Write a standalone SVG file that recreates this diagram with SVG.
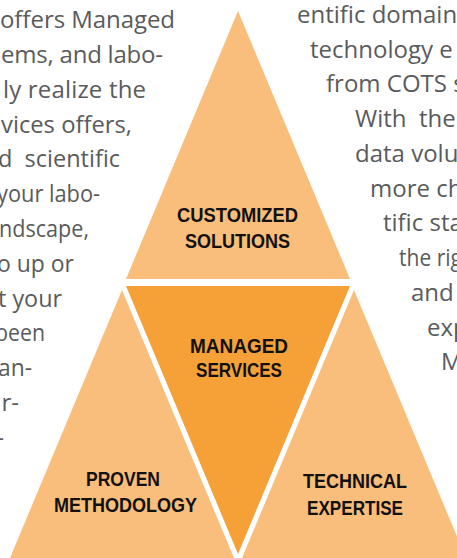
<svg xmlns="http://www.w3.org/2000/svg" width="457" height="558" viewBox="0 0 457 558">
<style>
.light{fill:#F9BE7B}
.dark{fill:#F6A137}
.lbl{font-family:"Liberation Sans",Arial,sans-serif;font-weight:bold;font-size:21px;fill:#111111;text-anchor:middle}
.body{font-family:"Open Sans","Liberation Sans",sans-serif;font-size:24px;fill:#5A5B5D}
.l{text-anchor:end}
</style>
<rect width="457" height="558" fill="#FFFFFF"/>
<g id="body-left" class="body">
<text class="l" x="175" y="28" textLength="175" lengthAdjust="spacing">offers Managed</text>
<text class="l" x="163" y="63" textLength="162" lengthAdjust="spacing">ems, and labo-</text>
<text class="l" x="146" y="98" textLength="143" lengthAdjust="spacing">ly realize the</text>
<text class="l" x="132" y="133" textLength="131" lengthAdjust="spacingAndGlyphs">vices offers,</text>
<text class="l" x="120" y="167" xml:space="preserve" textLength="122" lengthAdjust="spacingAndGlyphs">d  scientific</text>
<text class="l" x="100" y="202" textLength="103" lengthAdjust="spacingAndGlyphs">your labo-</text>
<text class="l" x="89" y="237" textLength="90" lengthAdjust="spacingAndGlyphs">ndscape,</text>
<text class="l" x="74" y="272" textLength="77" lengthAdjust="spacingAndGlyphs">o up or</text>
<text class="l" x="62" y="307" textLength="64" lengthAdjust="spacingAndGlyphs">t your</text>
<text class="l" x="45" y="341" textLength="50" lengthAdjust="spacingAndGlyphs">been</text>
<text class="l" x="32" y="376" textLength="34" lengthAdjust="spacingAndGlyphs">an-</text>
<text class="l" x="19" y="411">r-</text>
<text class="l" x="4" y="446">-</text>
</g>
<g id="body-right" class="body">
<text x="297" y="23">entific domain</text>
<text x="310" y="58">technology e</text>
<text x="326" y="92">from COTS s</text>
<text x="355" y="127" xml:space="preserve">With  the</text>
<text x="355" y="162">data volu</text>
<text x="370" y="197">more ch</text>
<text x="383" y="231">tific sta</text>
<text x="399" y="266" textLength="63" lengthAdjust="spacingAndGlyphs">the rig</text>
<text x="411" y="301">and</text>
<text x="427" y="336">exp</text>
<text x="441" y="370">M</text>
</g>
<g id="customized-solutions">
<polygon class="light" points="238,11 126,279 350,279"/>
<text class="lbl" x="237.5" y="222" textLength="121" lengthAdjust="spacingAndGlyphs">CUSTOMIZED</text>
<text class="lbl" x="237.5" y="248" textLength="105" lengthAdjust="spacingAndGlyphs">SOLUTIONS</text>
</g>
<g id="managed-services">
<polygon class="dark" points="126,286 350,286 238,554"/>
<text class="lbl" x="239" y="353" textLength="98" lengthAdjust="spacingAndGlyphs">MANAGED</text>
<text class="lbl" x="239" y="377" textLength="86" lengthAdjust="spacingAndGlyphs">SERVICES</text>
</g>
<g id="proven-methodology">
<polygon class="light" points="122,290 10,558 234,558"/>
<text class="lbl" x="123" y="486" textLength="74" lengthAdjust="spacingAndGlyphs">PROVEN</text>
<text class="lbl" x="125.5" y="512" textLength="143" lengthAdjust="spacingAndGlyphs">METHODOLOGY</text>
</g>
<g id="technical-expertise">
<polygon class="light" points="354,290 242,558 466,558"/>
<text class="lbl" x="355" y="488" textLength="104" lengthAdjust="spacingAndGlyphs">TECHNICAL</text>
<text class="lbl" x="355" y="515" textLength="96" lengthAdjust="spacingAndGlyphs">EXPERTISE</text>
</g>
<g id="connectors"/>
</svg>
